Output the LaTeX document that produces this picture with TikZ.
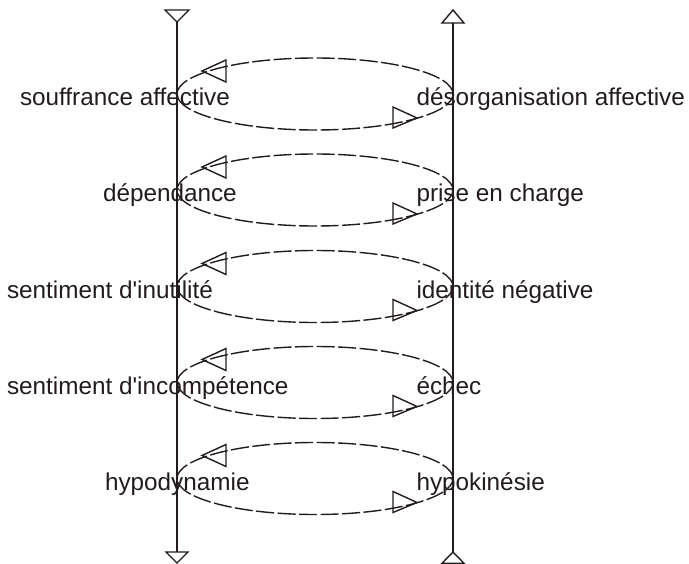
\documentclass[tikz,border=0pt]{standalone}
\usepackage{fontspec}
\setmainfont{Liberation Sans}
\definecolor{ink}{RGB}{35,28,28}
\begin{document}
\begin{tikzpicture}[x=1pt,y=-1pt,
  lbl/.style={anchor=base west, inner sep=0pt, outer sep=0pt, text=ink, font=\fontsize{24.3}{28}\selectfont},
  ring/.style={draw=ink, line width=1.4pt, dash pattern=on 18pt off 3.5pt},
  tri/.style={draw=ink, line width=1.4pt, line join=miter},
  axis/.style={draw=ink, line width=1.6pt}]
\useasboundingbox (0,0) rectangle (689,564);
% vertical axes
\coordinate (lt) at (177,22);
\coordinate (lb) at (177,552);
\coordinate (rt) at (453,23);
\coordinate (rb) at (453,552);
\draw[axis] (lt) -- (lb);
\draw[axis] (rt) -- (rb);
\draw[tri] (165,10) -- (189,10) -- (lt) -- cycle;
\draw[tri] (166,552) -- (188,552) -- (177,563) -- cycle;
\draw[tri] (442,23) -- (464,23) -- (453,10) -- cycle;
\draw[tri] (442,563.3) -- (464,563.3) -- (rb) -- cycle;
% cycles
\foreach \i/\cy/\lx/\L/\R in {
  1/94/20/souffrance affective/désorganisation affective,
  2/190/103/dépendance/prise en charge,
  3/286.5/7/sentiment d\textquotesingle inutilité/identité négative,
  4/382.5/7/sentiment d\textquotesingle incompétence/échec,
  5/478.5/105/hypodynamie/hypokinésie}{
  \node[lbl] (l\i) at (\lx,\cy+12) {\L};
  \node[lbl] (r\i) at (416.5,\cy+12) {\R};
  \coordinate (c\i) at (315,\cy);
  \draw[ring] (c\i) ellipse [x radius=138pt, y radius=36pt];
  \begin{scope}[shift={(c\i)}]
    \draw[tri] (-89,-34) -- (-89,-12) -- (-113,-23) -- cycle;
    \draw[tri] (78,13) -- (78,34) -- (102,24) -- cycle;
  \end{scope}
}
\end{tikzpicture}
\end{document}
